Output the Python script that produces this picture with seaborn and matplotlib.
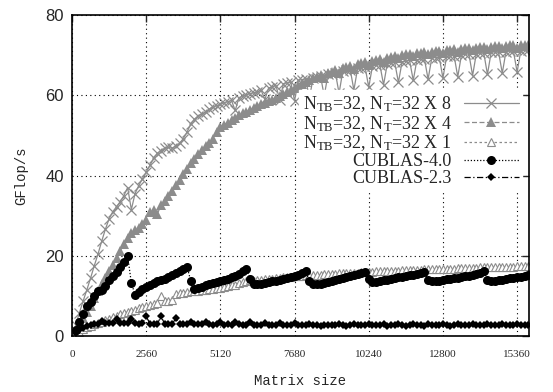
import numpy as np
import pandas as pd
import matplotlib
matplotlib.use('Agg')
import matplotlib.pyplot as plt
import seaborn as sns

# matrix sizes, step 128
size = np.arange(128, 15745, 128)

# N_TB=32, N_T=32 X 8
gf_x8 = [2.8, 5.8, 8.7, 11.5, 14.4, 17.5, 20.4, 23.6, 26.6, 29.2, 31.0, 32.2, 33.5, 35.0, 37.0, 31.5,
         35.5, 37.5, 39.2, 40.8, 42.5, 44.3, 45.5, 46.2, 46.8, 47.0, 46.8, 47.3, 48.0, 49.2, 50.8, 52.8,
         54.0, 54.8, 55.3, 55.8, 56.5, 57.0, 57.4, 57.8, 58.1, 58.4, 58.7, 56.2, 59.4, 59.8, 60.1, 60.4,
         60.6, 60.9, 61.2, 59.0, 61.8, 62.1, 62.4, 58.8, 62.9, 63.1, 63.3, 58.6, 63.7, 63.9, 64.1, 59.2,
         64.4, 64.6, 64.8, 59.8, 65.2, 65.4, 65.6, 60.5, 66.0, 66.2, 66.4, 61.3, 66.7, 66.9, 67.1, 62.0,
         67.3, 67.5, 67.6, 62.6, 67.9, 68.0, 68.2, 63.2, 68.4, 68.5, 68.7, 63.7, 68.9, 69.0, 69.1, 64.0,
         69.3, 69.4, 69.5, 64.3, 69.7, 69.8, 69.9, 64.6, 70.1, 70.2, 70.3, 64.9, 70.4, 70.5, 70.6, 65.2,
         70.7, 70.8, 70.8, 65.5, 70.9, 71.0, 71.0, 65.8, 71.1, 71.2, 71.2]

# N_TB=32, N_T=32 X 4
gf_x4 = [1.6, 3.2, 4.6, 6.0, 7.6, 9.4, 11.2, 12.9, 14.5, 16.1, 17.7, 19.4, 21.2, 23.0, 24.5, 25.6,
         26.3, 27.0, 27.8, 29.0, 30.8, 31.3, 30.4, 32.6, 33.6, 34.8, 36.2, 37.6, 39.0, 40.3, 41.6, 43.0,
         44.2, 45.4, 46.3, 47.3, 48.2, 49.2, 50.8, 52.2, 52.6, 53.2, 53.8, 54.4, 55.0, 55.5, 55.9, 56.3,
         56.8, 57.3, 57.7, 58.1, 58.5, 58.9, 59.3, 59.7, 60.2, 60.7, 61.2, 61.7, 62.2, 62.7, 63.2, 63.7,
         64.2, 64.6, 65.0, 64.3, 65.6, 65.9, 66.2, 65.5, 66.8, 67.0, 67.3, 66.6, 67.8, 68.0, 68.2, 67.6,
         68.6, 68.9, 69.1, 68.4, 69.4, 69.6, 69.8, 69.2, 70.0, 70.2, 70.3, 69.7, 70.5, 70.6, 70.8, 70.2,
         70.9, 71.0, 71.1, 70.5, 71.3, 71.4, 71.5, 70.9, 71.6, 71.7, 71.8, 71.2, 71.9, 72.0, 72.1, 71.5,
         72.1, 72.2, 72.3, 71.7, 72.3, 72.4, 72.4, 71.9, 72.5, 72.5, 72.6]

# N_TB=32, N_T=32 X 1
gf_x1 = [0.5, 1.1, 1.7, 2.2, 2.6, 3.0, 3.3, 3.6, 4.0, 4.3, 4.7, 5.0, 5.4, 5.7, 6.0, 6.3,
         6.6, 6.9, 7.2, 7.5, 7.8, 8.0, 8.3, 9.9, 8.6, 8.8, 9.0, 10.4, 10.6, 10.8, 11.0, 11.1,
         11.2, 11.3, 11.4, 11.5, 11.6, 11.7, 11.9, 12.0, 12.2, 12.4, 12.6, 12.8, 13.1, 13.4, 13.8, 14.0,
         13.8, 13.9, 14.0, 14.1, 14.2, 14.3, 14.4, 14.5, 14.6, 14.7, 14.8, 14.9, 15.0, 15.0, 15.1, 15.1,
         15.2, 15.3, 15.3, 15.4, 15.4, 15.5, 15.5, 15.6, 15.6, 15.7, 15.7, 15.8, 15.8, 15.9, 15.9, 16.0,
         16.0, 16.1, 16.1, 16.2, 16.2, 16.2, 16.3, 16.3, 16.4, 16.4, 16.4, 16.5, 16.5, 16.5, 16.6, 16.6,
         16.6, 16.7, 16.7, 16.7, 16.8, 16.8, 16.8, 16.9, 16.9, 16.9, 17.0, 17.0, 17.0, 17.1, 17.1, 17.1,
         17.1, 17.2, 17.2, 17.2, 17.3, 17.3, 17.3, 17.4, 17.4, 17.4, 17.5]

# CUBLAS-4.0
gf_cublas40 = [1.5, 3.5, 5.5, 7.5, 8.5, 10.0, 11.2, 11.5, 12.5, 14.0, 15.0, 16.0, 17.2, 18.5, 20.0, 13.2,
               10.3, 11.0, 11.6, 12.3, 12.8, 13.2, 13.6, 14.0, 14.2, 14.6, 15.1, 15.6, 16.2, 16.8, 17.3, 13.8,
               11.8, 12.0, 12.3, 12.6, 12.9, 13.2, 13.4, 13.7, 14.0, 14.3, 14.6, 15.0, 15.5, 16.1, 16.8, 14.3,
               13.0, 12.9, 13.0, 13.2, 13.4, 13.6, 13.8, 14.0, 14.3, 14.5, 14.8, 15.0, 15.3, 15.7, 16.2, 13.6,
               13.0, 12.9, 13.0, 13.2, 13.4, 13.6, 13.9, 14.1, 14.4, 14.6, 14.9, 15.1, 15.4, 15.7, 16.0, 14.1,
               13.5, 13.5, 13.7, 13.9, 14.0, 14.2, 14.4, 14.6, 14.8, 15.0, 15.1, 15.3, 15.5, 15.8, 16.0, 14.0,
               13.7, 13.7, 13.8, 13.9, 14.1, 14.2, 14.4, 14.5, 14.7, 14.9, 15.0, 15.2, 15.4, 15.7, 16.2, 14.0,
               13.7, 13.8, 13.9, 14.0, 14.2, 14.4, 14.5, 14.7, 14.8, 15.0, 15.1]

# CUBLAS-2.3
gf_cublas23 = [0.7, 1.4, 2.0, 2.4, 2.7, 2.9, 3.1, 3.8, 3.3, 3.3, 3.2, 4.3, 3.3, 3.2, 3.3, 4.2,
               3.2, 3.1, 3.2, 4.9, 3.1, 3.0, 3.0, 4.9, 3.0, 3.0, 3.0, 4.4, 3.0, 2.9, 2.9, 3.6,
               2.9, 2.9, 2.9, 3.6, 2.9, 2.8, 2.9, 3.6, 2.8, 2.9, 2.8, 3.6, 2.9, 2.8, 2.8, 3.6,
               2.8, 2.8, 2.8, 3.3, 2.8, 2.8, 2.8, 3.2, 2.7, 2.8, 2.8, 3.2, 2.8, 2.7, 2.8, 3.1,
               2.8, 2.7, 2.6, 2.8, 2.7, 2.8, 2.7, 3.0, 2.7, 2.6, 2.7, 2.9, 2.7, 2.7, 2.8, 3.0,
               2.7, 2.7, 2.7, 2.9, 2.6, 2.7, 2.7, 3.0, 2.7, 2.6, 2.7, 2.9, 2.7, 2.7, 2.6, 3.0,
               2.7, 2.7, 2.7, 2.9, 2.7, 2.6, 2.7, 3.0, 2.7, 2.7, 2.7, 2.9, 2.7, 2.7, 2.7, 3.0,
               2.7, 2.7, 2.7, 2.9, 2.7, 2.7, 2.7, 3.0, 2.7, 2.7, 2.8]

xticks = [0, 2560, 5120, 7680, 10240, 12800, 15360]
yticks = [0, 20, 40, 60, 80]

lbl_x8 = r'N$_{\mathrm{TB}}$=32, N$_{\mathrm{T}}$=32 X 8'
lbl_x4 = r'N$_{\mathrm{TB}}$=32, N$_{\mathrm{T}}$=32 X 4'
lbl_x1 = r'N$_{\mathrm{TB}}$=32, N$_{\mathrm{T}}$=32 X 1'

sns.set_style('white')
plt.rcParams['mathtext.fontset'] = 'custom'
plt.rcParams['mathtext.rm'] = 'Liberation Serif'
plt.rcParams['mathtext.it'] = 'Liberation Serif:italic'

fig = plt.figure(figsize=(5.53, 3.92), dpi=100)
ax = fig.add_axes([72 / 553, 56 / 392, 457 / 553, 321 / 392])

gray = '#8c8c8c'
sns.lineplot(x=size, y=gf_x8, ax=ax, color=gray, linestyle='-', linewidth=0.9,
             marker='x', markersize=7, markeredgewidth=0.9, markeredgecolor=gray, label=lbl_x8)
sns.lineplot(x=size, y=gf_x4, ax=ax, color=gray, linestyle=(0, (4, 2)), linewidth=0.9,
             marker='^', markersize=6.5, markeredgewidth=0, markerfacecolor=gray,
             markeredgecolor=gray, label=lbl_x4)
sns.lineplot(x=size, y=gf_x1, ax=ax, color=gray, linestyle=(0, (2, 2)), linewidth=0.9,
             marker='^', markersize=6, markeredgewidth=0.8, markerfacecolor='white',
             markeredgecolor=gray, label=lbl_x1)
sns.lineplot(x=size, y=gf_cublas40, ax=ax, color='black', linestyle=(0, (1, 1.5)), linewidth=0.9,
             marker='o', markersize=6.5, markeredgewidth=0, markeredgecolor='black', label='CUBLAS-4.0')
sns.lineplot(x=size, y=gf_cublas23, ax=ax, color='black', linestyle=(0, (5, 2, 1, 2)), linewidth=0.9,
             marker='D', markersize=4.5, markeredgewidth=0, markeredgecolor='black', label='CUBLAS-2.3')

ax.set_xlim(0, 15770)
ax.set_ylim(0, 80)
ax.set_xticks(xticks)
ax.set_yticks(yticks)
ax.grid(True, color='black', linestyle=(0, (1, 3)), linewidth=0.8)
ax.tick_params(direction='in', length=5, width=1, top=True, right=True)
for side in ax.spines.values():
    side.set_linewidth(1.2)
    side.set_color('black')

for t in ax.get_xticklabels():
    t.set_family('Liberation Serif')
    t.set_fontsize(8)
for t in ax.get_yticklabels():
    t.set_family('Liberation Sans')
    t.set_fontsize(12)
ax.tick_params(axis='x', pad=10)
ax.tick_params(axis='y', pad=6)

ax.set_xlabel('Matrix size', family='Liberation Mono', fontsize=10, labelpad=11)
ax.set_ylabel('GFlop/s', family='Liberation Mono', fontsize=10, labelpad=12)

leg = ax.legend(loc='upper right', bbox_to_anchor=(0.985, 0.765), markerfirst=False,
                alignment='right', frameon=True, fancybox=False, framealpha=1,
                facecolor='white', edgecolor='white', handlelength=3.0, handletextpad=0.7,
                labelspacing=0.0, borderpad=0.2, borderaxespad=0,
                prop={'family': 'Liberation Serif', 'size': 13})

plt.savefig('out.png', dpi=100)
plt.close()
